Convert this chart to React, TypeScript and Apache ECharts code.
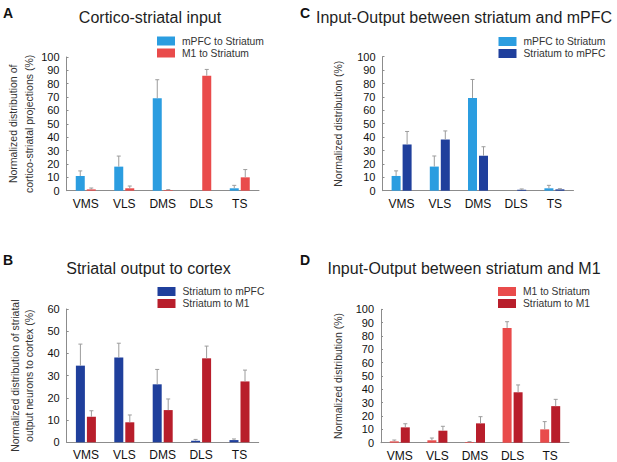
import React, { useEffect, useRef } from "react";
import * as echarts from "echarts";

const categories = ["VMS", "VLS", "DMS", "DLS", "TS"];
const mPFCtoStriatum = [11, 18, 69.2, 0, 1.8];
const mPFCtoStriatumErr = [14.8, 25.9, 83, 0, 4];
const m1ToStriatum = [1, 1.8, 0.5, 86, 10];
const m1ToStriatumErr = [2, 3.5, 0.8, 90.7, 15.8];
const striatumToMPFC = [34.5, 38.2, 26.1, 0.7, 1.0];
const striatumToMPFCErr = [44.2, 44.6, 32.8, 1.3, 1.5];
const striatumToM1 = [11.5, 9, 14.5, 37.8, 27.4];
const striatumToM1Err = [14.2, 12.3, 19.5, 43.3, 32.5];
const yTicks100 = [0, 10, 20, 30, 40, 50, 60, 70, 80, 90, 100];
const yTicks60 = [0, 10, 20, 30, 40, 50, 60];

const FONT = "'Liberation Sans', Arial, Helvetica, sans-serif";
const LIGHT_BLUE = "#2b9de0";
const RED = "#e94b4b";
const DARK_BLUE = "#1f3f9c";
const DARK_RED = "#b81e2b";
const BAR_W = 9;
const BAR_GAP = 2;

type S = { name: string; values: number[]; errs: number[]; color: string };
type Panel = {
  grid: { left: number; top: number; width: number; height: number };
  ticks: number[];
  yName: string;
  nameGap: number;
  nameLH: number;
  series: S[];
  legend: { left: number; top: number };
};

const panels: Panel[] = [
  {
    grid: { left: 66.5, top: 57, width: 192.5, height: 133.7 },
    ticks: yTicks100,
    yName: "Normalized distribution of\ncortico-striatal projections (%)",
    nameGap: 29,
    nameLH: 16,
    series: [
      { name: "mPFC to Striatum", values: mPFCtoStriatum, errs: mPFCtoStriatumErr, color: LIGHT_BLUE },
      { name: "M1 to Striatum", values: m1ToStriatum, errs: m1ToStriatumErr, color: RED },
    ],
    legend: { left: 157, top: 36 },
  },
  {
    grid: { left: 382.5, top: 56.7, width: 191, height: 134 },
    ticks: yTicks100,
    yName: "Normalized distribution (%)",
    nameGap: 38,
    nameLH: 14,
    series: [
      { name: "mPFC to Striatum", values: mPFCtoStriatum, errs: mPFCtoStriatumErr, color: LIGHT_BLUE },
      { name: "Striatum to mPFC", values: striatumToMPFC, errs: striatumToMPFCErr, color: DARK_BLUE },
    ],
    legend: { left: 498.5, top: 36.5 },
  },
  {
    grid: { left: 66.7, top: 309, width: 192, height: 133.3 },
    ticks: yTicks60,
    yName: "Normalized distribution of striatal\noutput neurons to cortex (%)",
    nameGap: 31,
    nameLH: 14,
    series: [
      { name: "Striatum to mPFC", values: striatumToMPFC, errs: striatumToMPFCErr, color: DARK_BLUE },
      { name: "Striatum to M1", values: striatumToM1, errs: striatumToM1Err, color: DARK_RED },
    ],
    legend: { left: 157.5, top: 286.5 },
  },
  {
    grid: { left: 381, top: 309.3, width: 188, height: 133.4 },
    ticks: yTicks100,
    yName: "Normalized distribution (%)",
    nameGap: 36,
    nameLH: 14,
    series: [
      { name: "M1 to Striatum", values: m1ToStriatum, errs: m1ToStriatumErr, color: RED },
      { name: "Striatum to M1", values: striatumToM1, errs: striatumToM1Err, color: DARK_RED },
    ],
    legend: { left: 498, top: 286.5 },
  },
];

const titles = [
  { text: "Cortico-striatal input", x: 150, y: 17 },
  { text: "Input-Output between striatum and mPFC", x: 464, y: 17 },
  { text: "Striatal output to cortex", x: 148.5, y: 268 },
  { text: "Input-Output between striatum and M1", x: 464, y: 268 },
];
const letters = [
  { text: "A", x: 3, y: 13 },
  { text: "C", x: 300, y: 13 },
  { text: "B", x: 3, y: 260 },
  { text: "D", x: 300, y: 260 },
];

function errSeries(s: S, idx: number, offset: number) {
  return {
    type: "custom",
    xAxisIndex: idx,
    yAxisIndex: idx,
    z: 3,
    silent: true,
    encode: { x: 0, y: 1 },
    data: s.values.map((v, i) => [i, v, s.errs[i]]),
    renderItem: (_p: any, api: any) => {
      const x = api.value(0);
      const v = api.value(1);
      const e = api.value(2);
      if (!(e > v)) return null;
      const top = api.coord([x, e]);
      const bot = api.coord([x, v]);
      const cx = top[0] + offset;
      const st = { stroke: "#9c9c9c", lineWidth: 1 };
      return {
        type: "group",
        children: [
          { type: "line", shape: { x1: cx, y1: bot[1], x2: cx, y2: top[1] }, style: st },
          { type: "line", shape: { x1: cx - 2, y1: top[1], x2: cx + 2, y2: top[1] }, style: st },
        ],
      };
    },
  };
}

export default function App() {
  const ref = useRef<HTMLDivElement>(null);
  useEffect(() => {
    if (!ref.current) return;
    const chart = echarts.init(ref.current, undefined, { renderer: "svg" });
    const grid = panels.map((p) => ({ ...p.grid, containLabel: false }));
    const xAxis = panels.map((_p, i) => ({
      type: "category",
      gridIndex: i,
      data: categories,
      axisLine: { lineStyle: { color: "#8c8c8c", width: 1 } },
      axisTick: { show: false },
      axisLabel: { color: "#111", fontSize: 12, fontFamily: FONT, margin: 7 },
    }));
    const yAxis = panels.map((p, i) => ({
      type: "value",
      gridIndex: i,
      min: 0,
      max: p.ticks[p.ticks.length - 1],
      interval: 10,
      name: p.yName,
      nameLocation: "middle",
      nameGap: p.nameGap,
      nameTextStyle: { color: "#333", fontSize: 10.5, fontFamily: FONT, lineHeight: p.nameLH },
      axisLine: { show: true, lineStyle: { color: "#8c8c8c", width: 1 } },
      axisTick: { show: true, inside: true, length: 2, lineStyle: { color: "#8c8c8c" } },
      splitLine: { show: false },
      axisLabel: { color: "#111", fontSize: 11, fontFamily: FONT, margin: 7 },
    }));
    const series: any[] = [];
    panels.forEach((p, i) => {
      p.series.forEach((s) => {
        series.push({
          type: "bar",
          name: s.name,
          xAxisIndex: i,
          yAxisIndex: i,
          data: s.values,
          barWidth: BAR_W,
          barGap: `${(BAR_GAP / BAR_W) * 100}%`,
          itemStyle: { color: s.color },
          z: 2,
        });
      });
      p.series.forEach((s, j) => {
        const off = (j === 0 ? -1 : 1) * (BAR_W + BAR_GAP) / 2;
        series.push(errSeries(s, i, off));
      });
    });
    const legend = panels.map((p) => ({
      data: p.series.map((s) => s.name),
      left: p.legend.left,
      top: p.legend.top,
      orient: "vertical",
      icon: "rect",
      itemWidth: 18,
      itemHeight: 9,
      itemGap: 2,
      padding: 0,
      selectedMode: false,
      textStyle: { fontSize: 10.3, color: "#333", fontFamily: FONT, lineHeight: 10, padding: [0, 0, 0, 2] },
    }));
    const graphic: any[] = [
      ...titles.map((t) => ({
        type: "text",
        x: t.x,
        y: t.y,
        style: { text: t.text, fontSize: 16, fill: "#1e1e1e", align: "center", verticalAlign: "middle", fontFamily: FONT },
      })),
      ...letters.map((t) => ({
        type: "text",
        x: t.x,
        y: t.y,
        style: { text: t.text, fontSize: 14, fontWeight: "bold", fill: "#111", align: "left", verticalAlign: "middle", fontFamily: FONT },
      })),
    ];
    chart.setOption({
      animation: false,
      backgroundColor: "#ffffff",
      grid,
      xAxis,
      yAxis,
      legend,
      series,
      graphic,
    });
    return () => chart.dispose();
  }, []);
  return (
    <div
      ref={ref}
      style={{ position: "absolute", left: 0, top: 0, width: 617, height: 462 }}
    />
  );
}
